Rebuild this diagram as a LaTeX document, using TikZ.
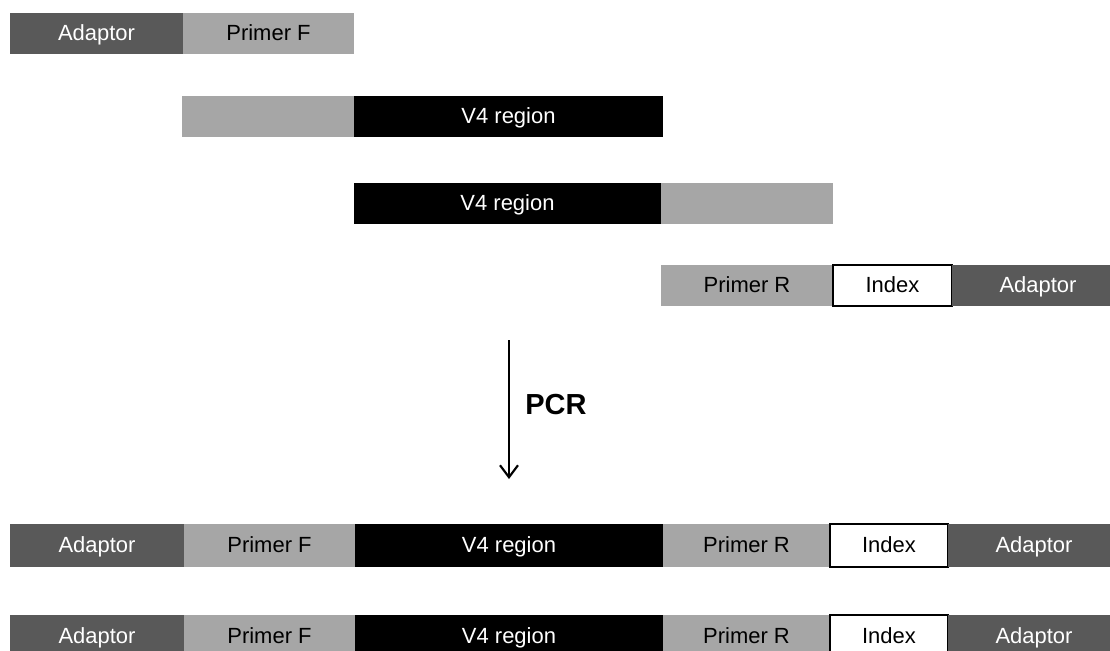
\documentclass[tikz,border=0pt]{standalone}
\usepackage{fontspec}
\setmainfont{Liberation Sans}
\usetikzlibrary{arrows.meta}
\definecolor{adaptgray}{RGB}{89,89,89}
\definecolor{primegray}{RGB}{166,166,166}
\begin{document}
\begin{tikzpicture}[x=0.02cm, y=-0.02cm,
        seg/.style={inner sep=0pt, outer sep=0pt, minimum height=0.82cm,
                text height=1.9ex, text depth=0.35ex,
                font=\fontsize{12.5}{14}\selectfont},
        adaptor/.style={seg, fill=adaptgray, text=white},
        primer/.style={seg, fill=primegray, text=black},
        vfour/.style={seg, fill=black, text=white},
        index/.style={seg, fill=white, draw=black, line width=0.7pt, text=black},
        arrow/.style={-{Straight Barb[length=2.4mm, width=3.6mm]}, line width=1.2pt}
    ]
    \useasboundingbox (0,0) rectangle (1110,650);
    \clip (0,0) rectangle (1110,650);

    % forward primer with adaptor
    \node[adaptor, minimum width=3.46cm] (adaF) at (96.5,33.5) {Adaptor};
    \node[primer, minimum width=3.42cm] (primF) at (268.5,33.5) {Primer F};

    % template strands
    \node[primer, minimum width=3.44cm] (tailA) at (268,116.5) {};
    \node[vfour, minimum width=6.18cm] (vfourA) at (508.5,116.5) {V4 region};
    \node[vfour, minimum width=6.14cm] (vfourB) at (507.5,203.5) {V4 region};
    \node[primer, minimum width=3.44cm] (tailB) at (747,203.5) {};

    % reverse primer with index and adaptor
    \node[primer, minimum width=3.44cm] (primR) at (747,285.5) {Primer R};
    \node[index, minimum width=2.38cm] (idxR) at (892.5,285.5) {Index};
    \node[adaptor, minimum width=3.44cm] (adaR) at (1038,285.5) {Adaptor};

    % amplification
    \coordinate (pcrtop) at (509,340);
    \coordinate (pcrbot) at (509,479);
    \draw[arrow] (pcrtop) -- (pcrbot);
    \node[font=\fontsize{16.5}{19}\selectfont\bfseries] (pcr) at (556,405) {PCR};

    % products
    \node[adaptor, minimum width=3.48cm, minimum height=0.86cm] (prodAa) at (97,545.5) {Adaptor};
    \node[primer, minimum width=3.42cm, minimum height=0.86cm] (prodAb) at (269.5,545.5) {Primer F};
    \node[vfour, minimum width=6.16cm, minimum height=0.86cm] (prodAc) at (509,545.5) {V4 region};
    \node[primer, minimum width=3.34cm, minimum height=0.86cm] (prodAd) at (746.5,545.5) {Primer R};
    \node[index, minimum width=2.36cm, minimum height=0.86cm] (prodAe) at (889,545.5) {Index};
    \node[adaptor, minimum width=3.44cm, minimum height=0.86cm] (prodAf) at (1034,545.5) {Adaptor};

    \node[adaptor, minimum width=3.48cm, minimum height=0.86cm] (prodBa) at (97,636.5) {Adaptor};
    \node[primer, minimum width=3.42cm, minimum height=0.86cm] (prodBb) at (269.5,636.5) {Primer F};
    \node[vfour, minimum width=6.16cm, minimum height=0.86cm] (prodBc) at (509,636.5) {V4 region};
    \node[primer, minimum width=3.34cm, minimum height=0.86cm] (prodBd) at (746.5,636.5) {Primer R};
    \node[index, minimum width=2.36cm, minimum height=0.86cm] (prodBe) at (889,636.5) {Index};
    \node[adaptor, minimum width=3.44cm, minimum height=0.86cm] (prodBf) at (1034,636.5) {Adaptor};
\end{tikzpicture}
\end{document}
